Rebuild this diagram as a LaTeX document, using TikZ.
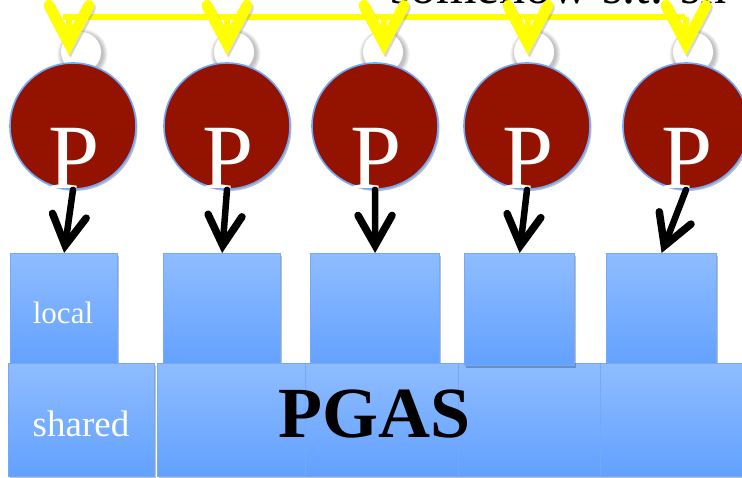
\documentclass[tikz,border=0pt]{standalone}
\usepackage{fontspec}
\setmainfont{Liberation Serif}
\usetikzlibrary{arrows.meta,shadows,calc}

\definecolor{procred}{HTML}{931200}
\definecolor{ringblue}{HTML}{6FA8FF}
\definecolor{memtop}{HTML}{8FBCFF}
\definecolor{membot}{HTML}{62A1FF}
\definecolor{memedge}{HTML}{74A9F6}
\definecolor{busyellow}{HTML}{FFFF00}

\tikzset{
  softshadow/.style={drop shadow={shadow xshift=1.5pt, shadow yshift=-2pt, opacity=0.25, fill=black}},
  proc/.style={circle, fill=procred, draw=ringblue, line width=1.6pt,
    minimum size=126pt, inner sep=0pt, softshadow},
  port/.style={circle, fill=white, minimum size=40pt, inner sep=0pt},
  plabel/.style={text=white, font=\fontsize{92}{92}\selectfont, anchor=base, inner sep=0pt},
  mem/.style={rectangle, draw=memedge, line width=1.2pt, top color=memtop,
    bottom color=membot, inner sep=0pt, anchor=north west, softshadow},
  memtext/.style={text=white, anchor=base, inner sep=0pt},
  bus/.style={draw=busyellow, line width=6pt,
    preaction={draw=black!45, opacity=0.35, transform canvas={xshift=1.5pt, yshift=-2.5pt}}},
  busarrow/.style={bus, shorten >=7pt,
    -{Straight Barb[length=38pt, width=40pt, line width=11pt, line cap=round, line join=miter]}},
  access/.style={draw=black, line width=6.5pt, line cap=round,
    -{Straight Barb[length=30pt, width=34pt, line width=7.5pt, line cap=round, line join=miter]}},
}

\begin{document}
\begin{tikzpicture}[x=1pt, y=-1pt]
  \useasboundingbox (0,0) rectangle (742,477);
  \clip (0,0) rectangle (742,477);
  \fill[white] (0,0) rectangle (742,477);

  % heading line above the figure, mostly outside the frame
  \node[anchor=base west, inner sep=0pt, font=\fontsize{52}{52}\selectfont] (heading) at (390,3) {somehow s.t. sh};

  % connection ports on top of the processors, with a soft shadow
  \foreach \i/\x in {1/81, 2/234, 3/383, 4/534, 5/693} {
    \foreach \r in {25,24,23,22,21}
      \fill[black, opacity=0.05] (\x+1.5,54) circle[radius=\r];
    \node[port] (port\i) at (\x,52) {};
  }

  % processors
  \foreach \i/\x in {1/73, 2/227, 3/375, 4/527, 5/686} {
    \node[proc] (c\i) at (\x,126) {};
    \node[plabel] (p\i) at (\x+1,188) {P};
  }

  % synchronisation bus with one arrow into each processor
  \coordinate (busL) at (63,17);
  \coordinate (busR) at (685,17);
  \draw[bus] (busL) -- (busR);
  \foreach \i/\x in {1/69, 2/227, 3/384, 4/528, 5/686} {
    \coordinate (t\i) at (\x,17);
    \draw[busarrow] (t\i) -- (t\i |- c\i.north);
  }

  % local memory blocks
  \node[mem, minimum width=107pt, minimum height=113pt] (l1) at (10,253) {};
  \node[mem, minimum width=117pt, minimum height=113pt] (l2) at (163,253) {};
  \node[mem, minimum width=129pt, minimum height=113pt] (l3) at (310,253) {};
  \node[mem, minimum width=110pt, minimum height=113pt] (l5) at (606,253) {};

  % shared memory blocks
  \node[mem, minimum width=146pt, minimum height=113pt] (s1) at (8,363) {};
  \node[mem, minimum width=148pt, minimum height=113pt] (s2) at (157,363) {};
  \node[mem, minimum width=153pt, minimum height=113pt] (s3) at (305,363) {};
  \node[mem, minimum width=142pt, minimum height=113pt] (s4) at (458,363) {};
  \node[mem, minimum width=152pt, minimum height=113pt] (s5) at (600,363) {};

  % fourth local block sits over the shared row
  \node[mem, minimum width=110pt, minimum height=112pt] (l4) at (464,253) {};

  % memory labels
  \node[memtext, font=\fontsize{31}{31}\selectfont] (loclabel) at (63,323) {local};
  \node[memtext, font=\fontsize{37}{37}\selectfont] (shlabel) at (81,436) {shared};
  \node[anchor=base, inner sep=0pt, font=\fontsize{72}{72}\selectfont\bfseries] (pgas) at (375,437) {PGAS};

  % each processor accesses its own local block
  \foreach \i in {1,...,5}
    \draw[access] (c\i.south) -- (l\i.north);
\end{tikzpicture}
\end{document}
